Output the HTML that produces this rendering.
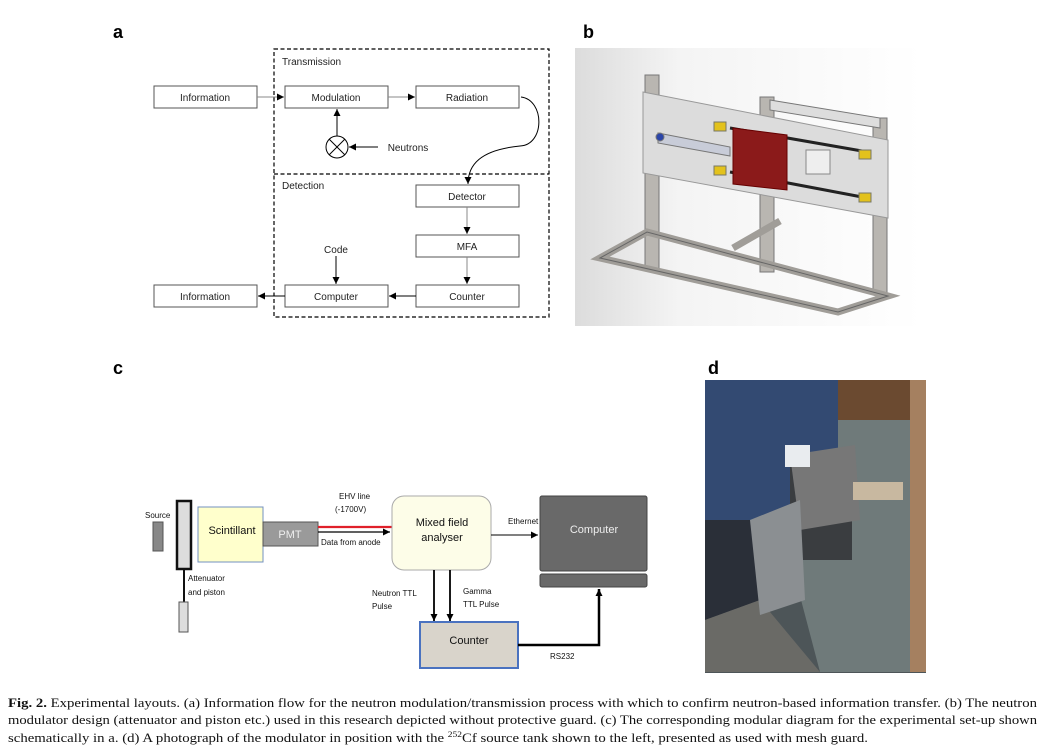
<!DOCTYPE html>
<html><head><meta charset="utf-8"><style>
body{margin:0;background:#fff;width:1044px;height:754px;overflow:hidden;position:relative;font-family:"Liberation Sans",sans-serif}
</style></head><body>
<svg width="1044" height="754" style="position:absolute;left:0;top:0" font-family="Liberation Sans, sans-serif">
<defs>
<marker id="ar" markerWidth="8" markerHeight="8" refX="7" refY="4" orient="auto" markerUnits="userSpaceOnUse"><path d="M0,0.5 L7,4 L0,7.5z" fill="#000"/></marker>
<linearGradient id="bg" x1="0" y1="0" x2="1" y2="0"><stop offset="0" stop-color="#dcdcdc"/><stop offset=".3" stop-color="#f4f4f4"/><stop offset="1" stop-color="#fff"/></linearGradient>
</defs>
<g font-weight="bold" font-size="18"><text x="113" y="38">a</text><text x="583" y="38">b</text><text x="113" y="374">c</text><text x="708" y="374">d</text></g>
<!-- panel a -->
<g font-size="10" fill="none" stroke="#000">
<rect x="274" y="49" width="275" height="268" stroke-dasharray="4,2.5" stroke-width="1.2"/>
<line x1="274" y1="174" x2="549" y2="174" stroke-dasharray="4,2.5" stroke-width="1.2"/>
<g stroke="#555" stroke-width="1" fill="#fff">
<rect x="154" y="86" width="103" height="22"/><rect x="285" y="86" width="103" height="22"/><rect x="416" y="86" width="103" height="22"/>
<rect x="416" y="185" width="103" height="22"/><rect x="416" y="235" width="103" height="22"/><rect x="416" y="285" width="103" height="22"/>
<rect x="285" y="285" width="103" height="22"/><rect x="154" y="285" width="103" height="22"/>
</g>
<g stroke="#888" stroke-width="1">
<line x1="257" y1="97" x2="284" y2="97" marker-end="url(#ar)"/>
<line x1="388" y1="97" x2="415" y2="97" marker-end="url(#ar)"/>
<line x1="467" y1="207" x2="467" y2="234" marker-end="url(#ar)"/>
<line x1="467" y1="257" x2="467" y2="284" marker-end="url(#ar)"/>
</g>
<g stroke="#000" stroke-width="1">
<line x1="416" y1="296" x2="389" y2="296" marker-end="url(#ar)"/>
<line x1="285" y1="296" x2="258" y2="296" marker-end="url(#ar)"/>
<line x1="336" y1="256" x2="336" y2="284" marker-end="url(#ar)"/>
<line x1="378" y1="147" x2="349" y2="147" marker-end="url(#ar)"/>
<line x1="337" y1="136" x2="337" y2="109" marker-end="url(#ar)"/>
<circle cx="337" cy="147" r="11"/>
<line x1="329" y1="139" x2="345" y2="155"/><line x1="345" y1="139" x2="329" y2="155"/>
<path d="M521,97 C545,100 545,145 520,146 C480,150 468,165 468,184" marker-end="url(#ar)"/>
</g>
</g>
<g font-size="10" fill="#222" text-anchor="middle">
<text x="205" y="101">Information</text><text x="336" y="101">Modulation</text><text x="467" y="101">Radiation</text>
<text x="467" y="200">Detector</text><text x="467" y="250">MFA</text><text x="467" y="300">Counter</text>
<text x="336" y="300">Computer</text><text x="205" y="300">Information</text>
<text x="336" y="253">Code</text>
<text x="408" y="151">Neutrons</text>
<text x="282" y="65" text-anchor="start">Transmission</text>
<text x="282" y="189" text-anchor="start">Detection</text>
</g>
<!-- panel b -->
<rect x="575" y="48" width="347" height="278" fill="url(#bg)"/>
<g stroke="#777" stroke-width="1">
<rect x="645" y="75" width="14" height="195" fill="#b9b6b1"/>
<rect x="760" y="97" width="14" height="175" fill="#b9b6b1"/>
<rect x="873" y="118" width="14" height="175" fill="#b9b6b1"/>
<polygon points="770,100 880,118 880,128 770,110" fill="#ddd"/>
<polygon points="643,92 888,140 888,218 643,173" fill="#dcdcdc" stroke="#999"/>
<polygon points="600,258 647,232 888,296 838,312" fill="none" stroke="#a09d98" stroke-width="7"/>
<line x1="733" y1="248" x2="780" y2="221" stroke="#a09d98" stroke-width="7"/>
<polygon points="600,258 647,232 888,296 838,312" fill="none" stroke="#666" stroke-width="1"/>
<line x1="730" y1="128" x2="862" y2="151" stroke="#222" stroke-width="3"/>
<line x1="730" y1="172" x2="862" y2="197" stroke="#222" stroke-width="3"/>
<polygon points="658,133 730,147 730,156 658,143" fill="#c8ccd8"/>
<polygon points="733,128 787,135 787,190 733,184" fill="#8b1a1a" stroke="#600"/>
<rect x="806" y="150" width="24" height="24" fill="#eee" stroke="#888"/>
<rect x="714" y="122" width="12" height="9" fill="#e3c21c" stroke="#776"/>
<rect x="714" y="166" width="12" height="9" fill="#e3c21c" stroke="#776"/>
<rect x="859" y="150" width="12" height="9" fill="#e3c21c" stroke="#776"/>
<rect x="859" y="193" width="12" height="9" fill="#e3c21c" stroke="#776"/>
<circle cx="660" cy="137" r="4" fill="#2b45a8"/>
</g>
<!-- panel c -->
<g stroke-width="1">
<rect x="153" y="522" width="10" height="29" fill="#888" stroke="#555"/>
<rect x="177" y="501" width="14" height="68" fill="#ddd" stroke="#111" stroke-width="2.5"/>
<line x1="184" y1="569" x2="184" y2="602" stroke="#111" stroke-width="2"/>
<rect x="179" y="602" width="9" height="30" fill="#ddd" stroke="#555"/>
<rect x="198" y="507" width="65" height="55" fill="#ffffcc" stroke="#7390c0"/>
<rect x="263" y="522" width="55" height="24" fill="#9a9a9a" stroke="#555"/>
<line x1="318" y1="527" x2="392" y2="527" stroke="#e0202a" stroke-width="2.2"/>
<line x1="318" y1="532" x2="390" y2="532" stroke="#000" stroke-width="1.3" marker-end="url(#ar)"/>
<rect x="392" y="496" width="99" height="74" rx="12" fill="#fdfde8" stroke="#aaa"/>
<line x1="491" y1="535" x2="538" y2="535" stroke="#000" marker-end="url(#ar)"/>
<rect x="540" y="496" width="107" height="75" rx="2" fill="#696969" stroke="#444"/>
<rect x="540" y="574" width="107" height="13" rx="2" fill="#696969" stroke="#444"/>
<line x1="434" y1="570" x2="434" y2="621" stroke="#000" stroke-width="1.8" marker-end="url(#ar)"/>
<line x1="450" y1="570" x2="450" y2="621" stroke="#000" stroke-width="1.8" marker-end="url(#ar)"/>
<rect x="420" y="622" width="98" height="46" fill="#d9d4cb" stroke="#4a72c0" stroke-width="2"/>
<polyline points="518,645 599,645 599,589" fill="none" stroke="#000" stroke-width="2.5" marker-end="url(#ar)"/>
</g>
<g font-size="8" fill="#111">
<text x="145" y="518">Source</text>
<text x="188" y="581">Attenuator</text><text x="188" y="595">and piston</text>
<text x="339" y="499">EHV line</text><text x="335" y="512">(-1700V)</text>
<text x="321" y="545">Data from anode</text>
<text x="508" y="524">Ethernet</text>
<text x="372" y="596">Neutron TTL</text><text x="372" y="609">Pulse</text>
<text x="463" y="594">Gamma</text><text x="463" y="607">TTL Pulse</text>
<text x="550" y="659">RS232</text>
</g>
<g font-size="11" text-anchor="middle">
<text x="232" y="534" fill="#111">Scintillant</text>
<text x="290" y="538" fill="#eee">PMT</text>
<text x="442" y="526" fill="#111">Mixed field</text><text x="442" y="541" fill="#111">analyser</text>
<text x="594" y="533" fill="#eee">Computer</text>
<text x="469" y="644" fill="#111">Counter</text>
</g>
<!-- panel d -->
<rect x="705" y="380" width="221" height="293" fill="#4d5558"/>
<polygon points="838,380 926,380 926,420 838,420" fill="#6b4a30"/>
<polygon points="838,420 926,420 926,672 820,672 780,520" fill="#6f7a7a"/>
<polygon points="705,380 838,380 838,450 790,520 705,520" fill="#334a72"/>
<polygon points="705,520 790,520 760,600 705,620" fill="#2a2f38"/>
<polygon points="705,620 760,600 820,672 705,672" fill="#6a6a66"/>
<rect x="790" y="460" width="62" height="100" fill="#3a3d40"/>
<polygon points="790,455 855,445 860,520 800,530" fill="#777"/>
<polygon points="750,520 800,500 805,600 760,615" fill="#8b8f92"/>
<rect x="853" y="482" width="50" height="18" fill="#c8b8a0"/>
<rect x="785" y="445" width="25" height="22" fill="#e9ecef"/>
<rect x="910" y="380" width="16" height="292" fill="#a58060"/>
<!-- caption -->
<g font-family="Liberation Serif, serif" font-size="12.5" fill="#111">
<text x="8" y="707" textLength="1029" lengthAdjust="spacingAndGlyphs"><tspan font-weight="bold">Fig. 2.</tspan> Experimental layouts. (a) Information flow for the neutron modulation/transmission process with which to confirm neutron-based information transfer. (b) The neutron</text>
<text x="8" y="724" textLength="1029" lengthAdjust="spacingAndGlyphs">modulator design (attenuator and piston etc.) used in this research depicted without protective guard. (c) The corresponding modular diagram for the experimental set-up shown</text>
<text x="8" y="742" textLength="860" lengthAdjust="spacingAndGlyphs">schematically in a. (d) A photograph of the modulator in position with the <tspan font-size="8" dy="-5">252</tspan><tspan dy="5">Cf source tank shown to the left, presented as used with mesh guard.</tspan></text>
</g>
</svg>
</body></html>
